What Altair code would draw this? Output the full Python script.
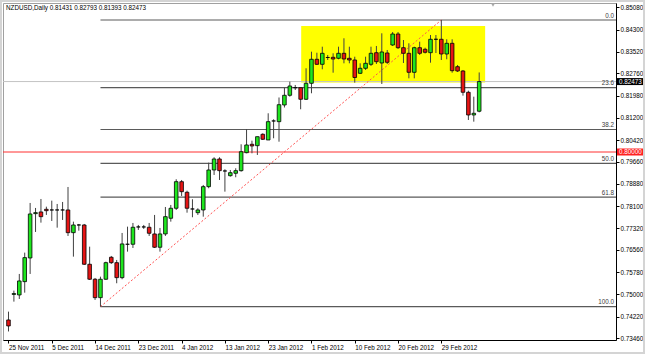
import altair as alt
import pandas as pd

# ---------------- data ----------------
bar_index = list(range(88))
opens = [0.74104, 0.75000, 0.74982, 0.75449, 0.76280, 0.77836, 0.77895, 0.77989, 0.77965, 0.77965,
         0.77965, 0.77965, 0.77168, 0.77438, 0.77438, 0.76059, 0.75533, 0.74887, 0.75533, 0.76305,
         0.76115, 0.75589, 0.76761, 0.76761, 0.77369, 0.77369, 0.77358, 0.77123, 0.76656, 0.77123,
         0.77674, 0.78025, 0.78958, 0.78586, 0.78000, 0.77870, 0.77965, 0.78783, 0.79369, 0.79755,
         0.79334, 0.79169, 0.79253, 0.79345, 0.79976, 0.80271, 0.80222, 0.80622, 0.80422, 0.81090,
         0.81065, 0.81651, 0.81991, 0.82258, 0.82258, 0.81851, 0.82412, 0.83255, 0.83079, 0.83318,
         0.83325, 0.83290, 0.83465, 0.83290, 0.83230, 0.82763, 0.82939, 0.83079, 0.83486, 0.83125,
         0.83476, 0.83757, 0.84143, 0.83662, 0.83465, 0.82798, 0.83662, 0.83606, 0.83487, 0.83957,
         0.83957, 0.83441, 0.83816, 0.82995, 0.82844, 0.82097, 0.81300, 0.81431]
highs = [0.74396, 0.75133, 0.75719, 0.76467, 0.78211, 0.78036, 0.78351, 0.78081, 0.78292, 0.78176,
         0.78246, 0.78772, 0.77555, 0.77474, 0.77474, 0.76677, 0.75578, 0.75624, 0.76150, 0.76351,
         0.76210, 0.77158, 0.77379, 0.77509, 0.77439, 0.77439, 0.77509, 0.77790, 0.77334, 0.78070,
         0.78141, 0.79043, 0.79018, 0.78642, 0.78341, 0.78025, 0.78843, 0.79626, 0.79815, 0.79815,
         0.79394, 0.79369, 0.79429, 0.80271, 0.80798, 0.80398, 0.80538, 0.80657, 0.81359, 0.81149,
         0.81914, 0.82254, 0.82469, 0.82353, 0.82258, 0.82939, 0.83522, 0.83486, 0.83697, 0.83406,
         0.83465, 0.83697, 0.83992, 0.83697, 0.83346, 0.83114, 0.83346, 0.83697, 0.83722, 0.84167,
         0.83581, 0.84213, 0.84213, 0.83932, 0.83816, 0.83697, 0.83873, 0.83662, 0.84108, 0.84108,
         0.84634, 0.83957, 0.83957, 0.83055, 0.82879, 0.82153, 0.81942, 0.82793]
lows = [0.73700, 0.74747, 0.74841, 0.75062, 0.75719, 0.77193, 0.77520, 0.77790, 0.77579, 0.77344,
        0.77614, 0.77052, 0.76326, 0.77239, 0.76035, 0.75508, 0.74806, 0.74571, 0.75508, 0.76070,
        0.75392, 0.75533, 0.76502, 0.76631, 0.77264, 0.77300, 0.77053, 0.76631, 0.76502, 0.77053,
        0.77555, 0.77965, 0.78457, 0.77870, 0.77709, 0.77790, 0.77730, 0.78727, 0.79194, 0.79018,
        0.78608, 0.79134, 0.79113, 0.79310, 0.79955, 0.79955, 0.79896, 0.80422, 0.80422, 0.80482,
        0.80362, 0.81562, 0.81942, 0.82177, 0.81500, 0.81826, 0.82062, 0.83055, 0.82904, 0.83230,
        0.82784, 0.83255, 0.83114, 0.83114, 0.82434, 0.82739, 0.82879, 0.83020, 0.83090, 0.82388,
        0.83090, 0.83722, 0.83616, 0.83125, 0.82587, 0.82587, 0.83406, 0.83458, 0.83136, 0.83476,
        0.83230, 0.83255, 0.82784, 0.82809, 0.81978, 0.81124, 0.81065, 0.81393]
closes = [0.73894, 0.75030, 0.75473, 0.76292, 0.77825, 0.77871, 0.77730, 0.77940, 0.77965, 0.77965,
          0.77965, 0.77168, 0.77438, 0.77438, 0.76059, 0.75533, 0.74887, 0.75533, 0.76115, 0.76115,
          0.75589, 0.76772, 0.76761, 0.77358, 0.77369, 0.77369, 0.77147, 0.76656, 0.77123, 0.77730,
          0.78025, 0.78958, 0.78607, 0.78025, 0.78000, 0.77965, 0.78783, 0.79369, 0.79755, 0.79345,
          0.79334, 0.79274, 0.79345, 0.80011, 0.80247, 0.80212, 0.80538, 0.80447, 0.81065, 0.81090,
          0.81661, 0.81991, 0.82318, 0.82258, 0.81851, 0.82412, 0.83255, 0.83079, 0.83465, 0.83318,
          0.83265, 0.83465, 0.83265, 0.83230, 0.82616, 0.82939, 0.83114, 0.83465, 0.83170, 0.83511,
          0.83149, 0.84143, 0.83662, 0.83465, 0.82798, 0.83662, 0.83465, 0.83501, 0.83957, 0.83957,
          0.83441, 0.83816, 0.82855, 0.82844, 0.82097, 0.81300, 0.81359, 0.82473]

tick_positions = [0, 8, 16, 24, 32, 40, 48, 56, 64, 72, 80]
tick_labels = ["25 Nov 2011", "5 Dec 2011", "14 Dec 2011", "23 Dec 2011", "4 Jan 2012",
               "13 Jan 2012", "23 Jan 2012", "1 Feb 2012", "10 Feb 2012", "20 Feb 2012",
               "29 Feb 2012"]
price_ticks = [0.85080, 0.84300, 0.83520, 0.82760, 0.81980, 0.81200, 0.80420, 0.79660,
               0.78880, 0.78100, 0.77320, 0.76560, 0.75780, 0.75000, 0.74220, 0.73460]

fib_levels = [0.0, 23.6, 38.2, 50.0, 61.8, 100.0]
fib_texts = ["0.0", "23.6", "38.2", "50.0", "61.8", "100.0"]
swing_low_index = 17
swing_high_index = 80

box_index = [54.1, 88.1]
box_price = [0.82440, 0.84424]
round_level = [0.80000]
symbol = "NZDUSD,Daily"

# ---------------- frames ----------------
df = pd.DataFrame({"i": bar_index, "open": opens, "high": highs, "low": lows, "close": closes})
df["dir"] = ["down" if c < o else "up" for o, c in zip(opens, closes)]

lo_price = lows[swing_low_index]
hi_price = highs[swing_high_index]
fib_df = pd.DataFrame({
    "start": [swing_low_index] * len(fib_levels),
    "price": [hi_price - lv / 100.0 * (hi_price - lo_price) for lv in fib_levels],
    "label": fib_texts,
})
trend_df = pd.DataFrame({"i": [swing_low_index, swing_high_index], "price": [lo_price, hi_price]})
box_df = pd.DataFrame({"i": [box_index[0]], "x2": [box_index[1]], "price": [box_price[0]], "y2": [box_price[1]]})
bid_df = pd.DataFrame({"price": [closes[-1]], "txt": [f"{closes[-1]:.5f}"]})
round_df = pd.DataFrame({"price": round_level, "txt": [f"{v:.5f}" for v in round_level]})
title_txt = f"{symbol}  {opens[-1]:.5f} {highs[-1]:.5f} {lows[-1]:.5f} {closes[-1]:.5f}"
title_df = pd.DataFrame({"t": [title_txt]})

W, H = 613, 337
PAD = {"left": 3, "top": 3, "right": 29, "bottom": 14}
FONT = "Liberation Sans"
FS = 6.3

xs = alt.Scale(domain=[-0.09, 111.36], nice=False, zero=False)
ys = alt.Scale(domain=[0.73400, 0.85231], nice=False, zero=False)

labels_js = "[" + ",".join(f"'{s}'" for s in tick_labels) + "]"
x_axis = alt.Axis(values=tick_positions, labelExpr=f"{labels_js}[round(datum.value / 8)]",
                  orient="bottom", tickSize=3, tickColor="black", domainColor="black",
                  labelFont=FONT, labelFontSize=FS, labelColor="black", labelAlign="left",
                  labelPadding=1, labelFlush=False, labelOverlap=False, labelBound=False,
                  grid=False, title=None)
y_axis = alt.Axis(values=price_ticks, format=".5f", orient="right", tickSize=3,
                  tickColor="black", domainColor="black", labelFont=FONT, labelFontSize=FS,
                  labelColor="black", labelPadding=1, labelBaseline="middle",
                  labelOverlap=False, labelBound=False, labelFlush=False, grid=False, title=None)


def X(field):
    return alt.X(field, scale=xs, axis=x_axis, title=None)


def Y(field):
    return alt.Y(field, scale=ys, axis=y_axis, title=None)


box = alt.Chart(box_df).mark_rect(color="#ffff00").encode(
    x=X("i:Q"), x2="x2:Q", y=Y("price:Q"), y2="y2:Q")

fib_lines = alt.Chart(fib_df).mark_rule(color="#5a5a5a", strokeWidth=1.2).encode(
    x=X("start:Q"), x2=alt.value(W), y=Y("price:Q"))

bid_line = alt.Chart(bid_df).mark_rule(color="#c4c4c4", strokeWidth=1).encode(
    x=alt.value(0), x2=alt.value(W), y=Y("price:Q"))

round_line = alt.Chart(round_df).mark_rule(color="#ff3030", strokeWidth=1).encode(
    x=alt.value(0), x2=alt.value(W), y=Y("price:Q"))

trend = alt.Chart(trend_df).mark_line(color="#ff5050", strokeWidth=1, strokeDash=[2, 2]).encode(
    x=X("i:Q"), y=Y("price:Q"))

wicks = alt.Chart(df).mark_rule(color="#404040", strokeWidth=1).encode(
    x=X("i:Q"), y=Y("low:Q"), y2="high:Q")

bodies = alt.Chart(df).mark_bar(width=3.6, stroke="black", strokeWidth=0.8).encode(
    x=X("i:Q"), y=Y("open:Q"), y2="close:Q",
    color=alt.Color("dir:N", scale=alt.Scale(domain=["up", "down"], range=["#1ee61e", "#e61414"]),
                    legend=None))

fib_labels = alt.Chart(fib_df).mark_text(align="right", baseline="bottom", dy=-1.5,
                                         font=FONT, fontSize=FS, color="#404040").encode(
    x=alt.value(W - 2), y=Y("price:Q"), text="label:N")

bid_box = alt.Chart(bid_df).mark_rect(color="black", yOffset=-3.5, y2Offset=3.5).encode(
    x=alt.value(W + 1), x2=alt.value(W + 27), y=Y("price:Q"), y2="price:Q")
bid_text = alt.Chart(bid_df).mark_text(align="left", baseline="middle", font=FONT, fontSize=FS,
                                       color="white").encode(
    x=alt.value(W + 3), y=Y("price:Q"), text="txt:N")

round_box = alt.Chart(round_df).mark_rect(color="#ff2020", yOffset=-3.5, y2Offset=3.5).encode(
    x=alt.value(W + 1), x2=alt.value(W + 27), y=Y("price:Q"), y2="price:Q")
round_text = alt.Chart(round_df).mark_text(align="left", baseline="middle", font=FONT, fontSize=FS,
                                           color="white").encode(
    x=alt.value(W + 3), y=Y("price:Q"), text="txt:N")

title = alt.Chart(title_df).mark_text(align="left", baseline="middle", font=FONT, fontSize=FS,
                                      color="black").encode(
    x=alt.value(3), y=alt.value(5.3), text="t:N")

shift_marker = alt.Chart(title_df).mark_point(shape="triangle-down", filled=True, color="#a8a8a8",
                                              size=16, opacity=1).encode(
    x=alt.value(490), y=alt.value(2))

# window frame (decoration around the whole canvas)
frame = alt.Chart(title_df).mark_rect(filled=False, stroke="#d4d4d4", strokeWidth=2).encode(
    x=alt.value(-PAD["left"] + 1), x2=alt.value(W + PAD["right"] - 1),
    y=alt.value(-PAD["top"] + 1), y2=alt.value(H + PAD["bottom"] - 1))

chart = alt.layer(
    box, fib_lines, bid_line, round_line, trend, wicks, bodies, fib_labels,
    bid_box, bid_text, round_box, round_text, title, shift_marker, frame
).resolve_scale(color="independent").properties(
    width=W, height=H,
    autosize=alt.AutoSizeParams(type="none"),
    padding=PAD,
    background="white",
).configure_view(stroke="#a0a0a0")

chart.save("out.html", embed_options={"renderer": "svg", "actions": False})
